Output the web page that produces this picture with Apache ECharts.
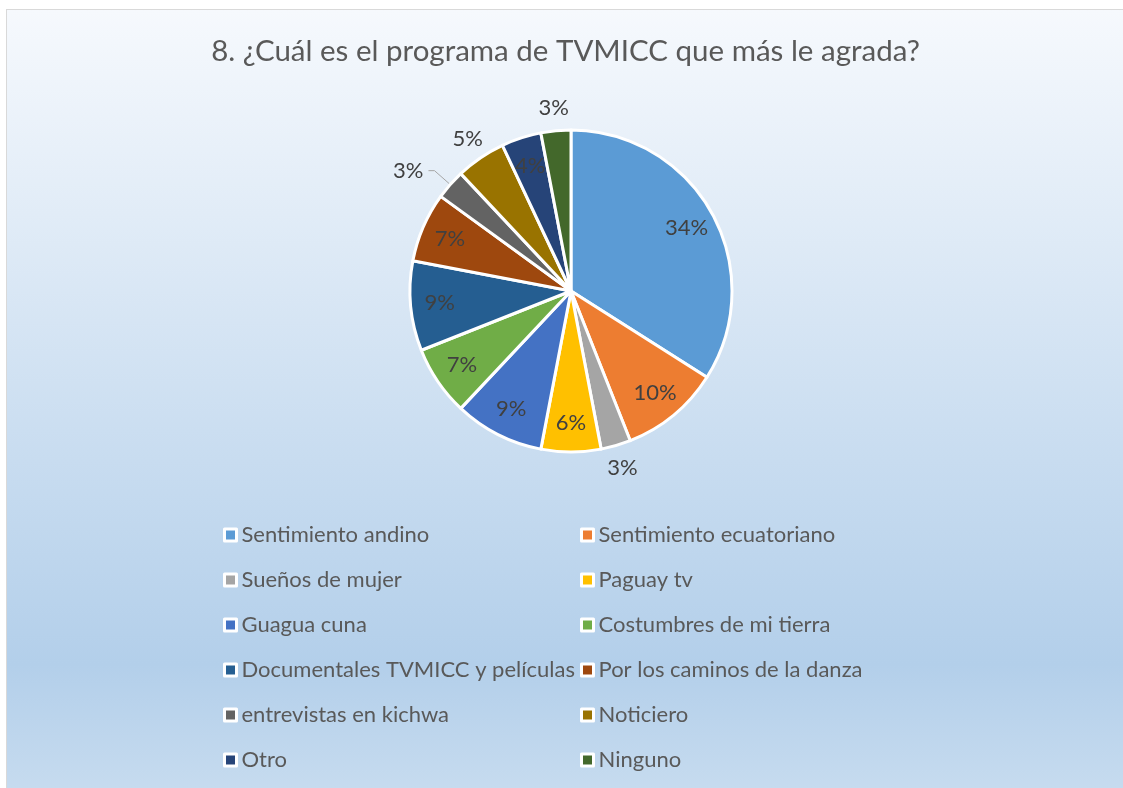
<!DOCTYPE html>
<html>
<head>
<meta charset="utf-8">
<script src="https://cdn.jsdelivr.net/npm/echarts@6/dist/echarts.min.js"></script>
<style>
  html, body { margin: 0; padding: 0; background: #ffffff; }
  #chart {
    position: absolute; left: 6px; top: 9px;
    width: 1117px; height: 779px;
    border-left: 1px solid #d9d9d9; border-top: 1px solid #d9d9d9;
  }
</style>
</head>
<body>
<div id="chart"></div>
<script>
// categorias y porcentajes
var programas = ['Sentimiento andino', 'Sentimiento ecuatoriano', 'Sueños de mujer', 'Paguay tv',
    'Guagua cuna', 'Costumbres de mi tierra', 'Documentales TVMICC y películas', 'Por los caminos de la danza',
    'entrevistas en kichwa', 'Noticiero', 'Otro', 'Ninguno'];
var porcentajes = [34, 10, 3, 6, 9, 7, 9, 7, 3, 5, 4, 3];
var colores = ['#5b9bd5', '#ed7d31', '#a5a5a5', '#ffc000', '#4472c4', '#70ad47',
    '#255e91', '#9e480e', '#636363', '#997300', '#264478', '#43682b'];
// donde va cada etiqueta: dentro, fuera, o fuera con linea
var posEtiqueta = ['in', 'in', 'out', 'in', 'in', 'in', 'in', 'in', 'line', 'out', 'in', 'out'];

var fuente = 'Lato';
var centro = [564, 281];
var radio = 161;

chartDom = document.getElementById('chart');
myChart = echarts.init(chartDom);

function datos(tipo) {
    return programas.map(function (n, i) {
        return {
            name: n,
            value: porcentajes[i],
            label: { show: posEtiqueta[i] == tipo }
        };
    });
}

var etiqueta = {
    color: '#404040',
    fontFamily: fuente,
    fontSize: 22,
    formatter: function (p) { return p.value + '%'; }
};

option = {
    backgroundColor: {
        type: 'linear', x: 0, y: 0, x2: 0, y2: 1,
        colorStops: [
            { offset: 0, color: '#f6f9fd' },
            { offset: 0.84, color: '#b3cfea' },
            { offset: 1, color: '#c6dbef' }
        ]
    },
    color: colores,
    title: {
        text: '8. ¿Cuál es el programa de TVMICC que más le agrada?',
        left: 'center',
        top: 21,
        textStyle: { color: '#595959', fontFamily: fuente, fontSize: 29.5, fontWeight: 'normal' }
    },
    legend: [0, 1].map(function (col) {
        return {
            orient: 'vertical',
            left: col == 0 ? 211 : 568,
            top: 509,
            itemWidth: 12,
            itemHeight: 12,
            itemGap: 23,
            icon: 'rect',
            selectedMode: false,
            itemStyle: { borderColor: '#ffffff', borderWidth: 3 },
            textStyle: { color: '#595959', fontFamily: fuente, fontSize: 22, lineHeight: 20 },
            data: programas.filter(function (n, i) { return i % 2 == col; })
        };
    }),
    series: [
        {
            type: 'pie',
            center: centro,
            radius: radio,
            startAngle: 90,
            clockwise: true,
            avoidLabelOverlap: false,
            itemStyle: { borderColor: '#ffffff', borderWidth: 3 },
            emphasis: { disabled: true },
            label: Object.assign({ position: 'outside' }, etiqueta),
            labelLine: { show: true, length: 21, length2: 6, lineStyle: { color: '#a6a6a6', width: 1 } },
            data: datos('line')
        },
        {
            // capa transparente para etiquetas interiores (a 0.8 del radio)
            type: 'pie',
            center: centro,
            radius: [0, radio * 1.6],
            startAngle: 90,
            silent: true,
            itemStyle: { color: 'rgba(0,0,0,0)' },
            emphasis: { disabled: true },
            label: Object.assign({ position: 'inside' }, etiqueta),
            labelLine: { show: false },
            data: datos('in')
        },
        {
            // capa transparente para etiquetas exteriores centradas
            type: 'pie',
            center: centro,
            radius: [0, 362],
            startAngle: 90,
            silent: true,
            itemStyle: { color: 'rgba(0,0,0,0)' },
            emphasis: { disabled: true },
            label: Object.assign({ position: 'inside' }, etiqueta),
            labelLine: { show: false },
            data: datos('out')
        }
    ]
};

option && myChart.setOption(option);
</script>
</body>
</html>
